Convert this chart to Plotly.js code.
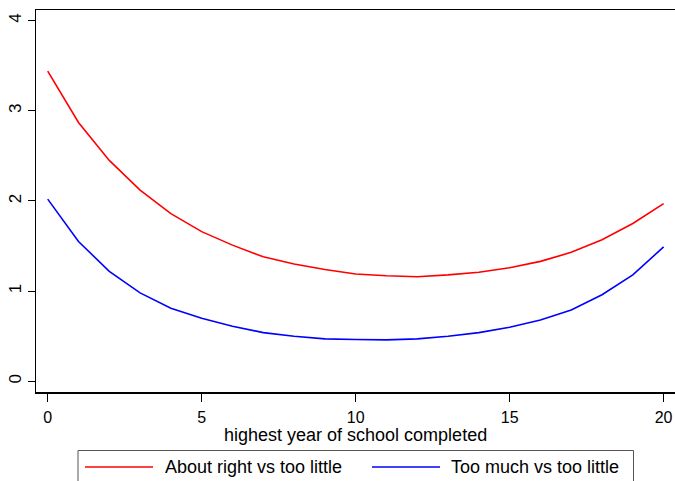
<!DOCTYPE html>
<html>
<head>
<meta charset="utf-8">
<script src="https://cdn.plot.ly/plotly-3.0.1.min.js"></script>
<style>html,body{margin:0;padding:0;background:#fff;}#chart{width:675px;height:481px;}</style>
</head>
<body>
<div id="chart"></div>
<script>
var years = [0,1,2,3,4,5,6,7,8,9,10,11,12,13,14,15,16,17,18,19,20];
var aboutRight = [3.44,2.87,2.45,2.12,1.86,1.66,1.51,1.38,1.30,1.24,1.19,1.17,1.16,1.18,1.21,1.26,1.33,1.43,1.57,1.75,1.97];
var tooMuch = [2.02,1.55,1.22,0.98,0.81,0.70,0.61,0.54,0.50,0.47,0.463,0.459,0.47,0.50,0.54,0.60,0.68,0.79,0.96,1.18,1.49];
var seriesNames = ["About right vs too little", "Too much vs too little"];
var seriesColors = ["#ff0000", "#0000ff"];
var xTicks = [0,5,10,15,20];
var yTicks = [0,1,2,3,4];
var xTitle = "highest year of school completed";

var font = "Liberation Sans, Arial, sans-serif";
var traces = [
  {x: years, y: aboutRight, name: seriesNames[0], type: "scatter", mode: "lines", line: {color: seriesColors[0], width: 1.6}},
  {x: years, y: tooMuch, name: seriesNames[1], type: "scatter", mode: "lines", line: {color: seriesColors[1], width: 1.6}}
];

// legend drawn as a boxed strip below the plot (paper coordinates)
function px2x(p) { return (p - 36) / 639; }
function py2y(p) { return (392 - p) / 382; }
var legY = py2y(467);
var shapes = [
  {type: "rect", xref: "paper", yref: "paper", x0: px2x(78), x1: px2x(633.5), y0: py2y(495), y1: py2y(450.5),
   line: {color: "#555", width: 1}, fillcolor: "#fff", layer: "above"},
  {type: "line", xref: "paper", yref: "paper", x0: px2x(85), x1: px2x(153), y0: legY, y1: legY,
   line: {color: seriesColors[0], width: 1.6}},
  {type: "line", xref: "paper", yref: "paper", x0: px2x(372), x1: px2x(440), y0: legY, y1: legY,
   line: {color: seriesColors[1], width: 1.6}}
];
var annotations = [
  {xref: "paper", yref: "paper", x: 0.5, y: py2y(435), xanchor: "center", yanchor: "middle", showarrow: false,
   text: xTitle, font: {family: font, size: 18, color: "#000"}},
  {xref: "paper", yref: "paper", x: px2x(163), y: legY, xanchor: "left", yanchor: "middle", showarrow: false,
   text: seriesNames[0], font: {family: font, size: 18, color: "#000"}},
  {xref: "paper", yref: "paper", x: px2x(449), y: legY, xanchor: "left", yanchor: "middle", showarrow: false,
   text: seriesNames[1], font: {family: font, size: 18, color: "#000"}}
];

var layout = {
  width: 675, height: 481,
  margin: {l: 36, r: 0, t: 10, b: 89, pad: 0, autoexpand: false},
  paper_bgcolor: "#fff", plot_bgcolor: "#fff",
  font: {family: font, size: 16, color: "#000"},
  showlegend: false,
  xaxis: {
    range: [-0.38, 20.37], tickvals: xTicks, ticktext: xTicks.map(String),
    showgrid: false, zeroline: false, showline: true, linecolor: "#000", linewidth: 1.5, mirror: true,
    ticks: "outside", ticklen: 8, tickwidth: 1, tickcolor: "#000", ticklabelstandoff: 2,
    tickfont: {family: font, size: 16}, automargin: false
  },
  yaxis: {
    range: [-0.119, 4.118], tickvals: yTicks, ticktext: yTicks.map(String),
    showgrid: false, zeroline: false, showline: true, linecolor: "#000", linewidth: 1.5,
    ticks: "outside", ticklen: 7, tickwidth: 1, tickcolor: "#000", automargin: false,
    tickangle: -90, tickfont: {family: font, size: 17}
  },
  shapes: shapes,
  annotations: annotations
};
Plotly.newPlot("chart", traces, layout, {staticPlot: true});
</script>
</body>
</html>
